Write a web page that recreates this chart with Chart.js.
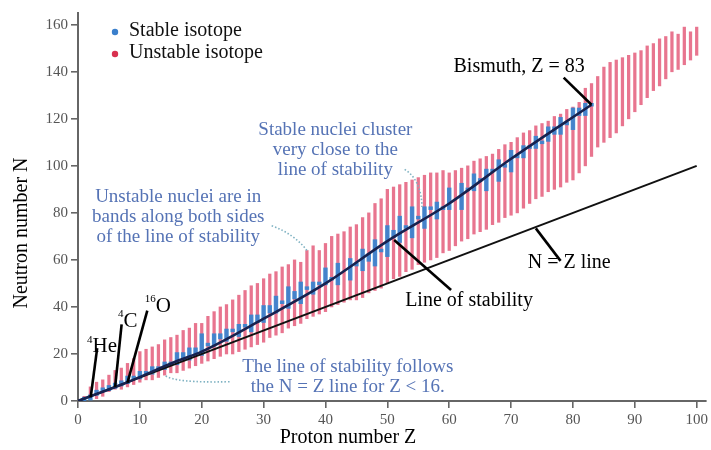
<!DOCTYPE html>
<html>
<head>
<meta charset="utf-8">
<title>Segre chart</title>
<script src="https://cdn.jsdelivr.net/npm/chart.js@4.4.1/dist/chart.umd.min.js"></script>
<style>
  html, body { margin: 0; padding: 0; background: #fff; }
  #wrap { width: 711px; height: 450px; }
</style>
</head>
<body>
<div id="wrap"><canvas id="segre" width="711" height="450"></canvas></div>
<script>
// ── Data ────────────────────────────────────────────────────────────────────
const protonZ = [
  1, 2, 3, 4, 5, 6, 7, 8, 9, 10,
  11, 12, 13, 14, 15, 16, 17, 18, 19, 20,
  21, 22, 23, 24, 25, 26, 27, 28, 29, 30,
  31, 32, 33, 34, 35, 36, 37, 38, 39, 40,
  41, 42, 43, 44, 45, 46, 47, 48, 49, 50,
  51, 52, 53, 54, 55, 56, 57, 58, 59, 60,
  61, 62, 63, 64, 65, 66, 67, 68, 69, 70,
  71, 72, 73, 74, 75, 76, 77, 78, 79, 80,
  81, 82, 83, 84, 85, 86, 87, 88, 89, 90,
  91, 92, 93, 94, 95, 96, 97, 98, 99, 100
];

// lowest / highest neutron number of the red (unstable) band at each Z
const unstableLow = [
  0, 1, 1, 2, 4, 5, 5, 6, 7, 8,
  9, 9, 10, 11, 12, 12, 13, 14, 15, 16,
  17, 18, 19, 20, 20, 21, 22, 23, 24, 25,
  27, 28, 29, 31, 32, 33, 35, 36, 37, 38,
  40, 41, 42, 43, 43, 44, 46, 47, 48, 50,
  52, 53, 55, 56, 58, 59, 60, 61, 63, 64,
  66, 68, 69, 71, 72, 73, 75, 76, 78, 79,
  80, 82, 84, 86, 87, 89, 90, 91, 93, 94,
  97, 100, 104, 108, 110, 112, 114, 117, 120, 123,
  126, 129, 132, 134, 137, 140, 141, 143, 145, 147
];
const unstableHigh = [
  2, 6, 8, 9, 11, 13, 14, 16, 18, 21,
  22, 23, 24, 26, 27, 28, 30, 31, 33, 33,
  36, 38, 40, 41, 43, 45, 47, 49, 50, 52,
  54, 55, 57, 58, 60, 59, 64, 66, 64, 67,
  70, 71, 72, 74, 75, 78, 80, 84, 86, 90,
  91, 92, 93, 94, 95, 96, 97, 97, 98, 97,
  98, 99, 100, 102, 103, 104, 105, 107, 109, 110,
  112, 114, 115, 117, 118, 119, 121, 122, 124, 125,
  127, 133, 135, 138, 142, 144, 145, 146, 147, 148,
  149, 151, 152, 154, 155, 157, 156, 159, 157, 159
];

// blue (stable) cluster at each Z, null where there is none
const stableLow = [
  0, 1, 3, 5, 5, 6, 7, 8, 10, 10,
  12, 12, 14, 14, 16, 16, 18, 18, 20, 20,
  24, 24, 27, 26, 30, 28, 32, 30, 34, 34,
  38, 38, 42, 40, 44, 42, 48, 46, 50, 50,
  52, 50, null, 52, 58, 56, 60, 58, 64, 62,
  70, 68, 74, 70, 78, 74, 82, 78, 82, 82,
  null, 82, 90, 90, 94, 90, 98, 94, 100, 98,
  104, 104, 108, 108, 110, 111, 114, 114, 118, 116,
  122, 122, 126, null, null, null, null, null, null, null,
  null, null, null, null, null, null, null, null, null, null
];
const stableHigh = [
  1, 2, 4, 5, 6, 7, 8, 10, 10, 12,
  12, 14, 14, 16, 16, 20, 20, 22, 22, 28,
  24, 28, 28, 30, 30, 32, 32, 36, 36, 40,
  40, 44, 42, 48, 46, 50, 48, 50, 50, 56,
  52, 58, null, 60, 58, 64, 62, 68, 64, 74,
  72, 78, 74, 82, 78, 82, 82, 84, 82, 90,
  null, 92, 90, 96, 94, 98, 98, 102, 100, 106,
  104, 108, 108, 112, 110, 116, 116, 120, 118, 124,
  124, 126, 126, null, null, null, null, null, null, null,
  null, null, null, null, null, null, null, null, null, null
];

// line of stability and N = Z line
const stabilityZ = [0, 8, 16, 20, 30, 40, 50, 60, 70, 83];
const stabilityN = [0, 8, 17, 21, 35, 50, 68, 84, 103, 126];
const equalZ = [0, 100];
const equalN = [0, 100];

const xTicks = [0, 10, 20, 30, 40, 50, 60, 70, 80, 90, 100];
const yTicks = [0, 20, 40, 60, 80, 100, 120, 140, 160];

// ── Colours / fonts ─────────────────────────────────────────────────────────
const RED   = 'rgba(226, 78, 112, 0.78)';
const BLUE  = 'rgba(52, 132, 210, 0.9)';
const NAVY  = '#17224f';
const NOTE  = '#5573b5';
const DOTS  = '#7fb2c2';
const SERIF = '"Liberation Serif", "DejaVu Serif", serif';

// ── Text annotations (positions in data units: Z, N) ────────────────────────
const blueNotes = [
  { z: 41.6, n: 115.3, lines: ['Stable nuclei cluster', 'very close to the', 'line of stability'] },
  { z: 16.2, n: 86.8,  lines: ['Unstable nuclei are in', 'bands along both sides', 'of the line of stability'] },
  { z: 43.6, n: 14.6,  lines: ['The line of stability follows', 'the N = Z line for Z < 16.'] }
];
const dottedLeaders = [
  { from: [52.8, 98.5], ctrl: [55.5, 94], to: [55.6, 82.5] },
  { from: [31.3, 74.5], ctrl: [35, 71],   to: [37.0, 64.0] },
  { from: [24.5, 8.2],  ctrl: [15.5, 7.6], to: [14.0, 11.0] }
];
const blackNotes = [
  { z: 71.3, n: 142.0, text: 'Bismuth, Z = 83', from: [78.5, 137.5], to: [83, 126] },
  { z: 63.2, n: 42.5,  text: 'Line of stability', from: [51.1, 68.5], to: [60.3, 47.2] },
  { z: 79.4, n: 58.6,  text: 'N = Z line', from: [74.0, 73.4], to: [78.0, 59.6] }
];
const isotopeTags = [
  { sup: '4',  el: 'He', z: 1.45, n: 23.0, from: [3.1, 22.5], to: [2.05, 1.6] },
  { sup: '4',  el: 'C',  z: 6.45, n: 33.8, from: [7.05, 32.6], to: [6, 6] },
  { sup: '16', el: 'O',  z: 10.8, n: 40.3, from: [11.2, 38.4], to: [8, 7.8] }
];

// ── Overlay plugin: legend, notes, leaders, axis titles ─────────────────────
const overlay = {
  id: 'overlay',
  afterDatasetsDraw(chart) {
    const ctx = chart.ctx;
    const sx = chart.scales.x, sy = chart.scales.y;
    const px = z => sx.getPixelForValue(z);
    const py = n => sy.getPixelForValue(n);

    ctx.save();
    ctx.textBaseline = 'middle';

    // legend
    [['#3a7fcc', 'Stable isotope', 31], ['#d8304f', 'Unstable isotope', 53]].forEach(([c, t, y]) => {
      ctx.fillStyle = c;
      ctx.beginPath(); ctx.arc(115, y + 1, 3.2, 0, Math.PI * 2); ctx.fill();
      ctx.fillStyle = '#111';
      ctx.font = '20px ' + SERIF;
      ctx.textAlign = 'left';
      ctx.fillText(t, 129, y);
    });

    // dotted leaders
    ctx.strokeStyle = DOTS;
    ctx.lineWidth = 1.6;
    ctx.setLineDash([1.5, 2]);
    dottedLeaders.forEach(d => {
      ctx.beginPath();
      ctx.moveTo(px(d.from[0]), py(d.from[1]));
      ctx.quadraticCurveTo(px(d.ctrl[0]), py(d.ctrl[1]), px(d.to[0]), py(d.to[1]));
      ctx.stroke();
    });
    ctx.setLineDash([]);

    // blue notes
    ctx.fillStyle = NOTE;
    ctx.font = '19px ' + SERIF;
    ctx.textAlign = 'center';
    blueNotes.forEach(b => {
      b.lines.forEach((l, i) => ctx.fillText(l, px(b.z), py(b.n) + i * 20));
    });

    // black notes with leaders
    ctx.strokeStyle = '#000';
    ctx.lineWidth = 2.6;
    ctx.fillStyle = '#000';
    ctx.font = '20px ' + SERIF;
    blackNotes.forEach(b => {
      ctx.beginPath();
      ctx.moveTo(px(b.from[0]), py(b.from[1]));
      ctx.lineTo(px(b.to[0]), py(b.to[1]));
      ctx.stroke();
      ctx.fillText(b.text, px(b.z), py(b.n));
    });

    // isotope tags
    isotopeTags.forEach(t => {
      ctx.beginPath();
      ctx.moveTo(px(t.from[0]), py(t.from[1]));
      ctx.lineTo(px(t.to[0]), py(t.to[1]));
      ctx.stroke();
      ctx.textAlign = 'left';
      ctx.font = '11px ' + SERIF;
      ctx.fillText(t.sup, px(t.z), py(t.n) - 7);
      const w = ctx.measureText(t.sup).width;
      ctx.font = '21px ' + SERIF;
      ctx.fillText(t.el, px(t.z) + w, py(t.n));
    });

    // axis titles
    ctx.font = '20px ' + SERIF;
    ctx.textAlign = 'center';
    ctx.fillText('Proton number Z', 348, 438);
    ctx.translate(22, 233);
    ctx.rotate(-Math.PI / 2);
    ctx.fillText('Neutron number N', 0, 0);

    ctx.restore();
  }
};

// ── Build chart ─────────────────────────────────────────────────────────────
function rangeData(lows, highs, pad) {
  const out = [];
  protonZ.forEach((z, i) => {
    if (lows[i] === null || highs[i] === null) return;
    out.push({ x: z, y: [lows[i] - pad, highs[i] + pad] });
  });
  return out;
}

function lineData(zs, ns) {
  return zs.map((z, i) => ({ x: z, y: ns[i] }));
}

const axisGrey = '#666';
const tickFont = { family: SERIF, size: 15 };

new Chart(document.getElementById('segre'), {
  type: 'bar',
  data: {
    datasets: [
      {
        label: 'Unstable isotope',
        data: rangeData(unstableLow, unstableHigh, 0),
        backgroundColor: RED,
        barThickness: 2.6,
        grouped: false,
        order: 3
      },
      {
        label: 'Stable isotope',
        data: rangeData(stableLow, stableHigh, 0.6),
        backgroundColor: BLUE,
        barThickness: 3.8,
        grouped: false,
        order: 2
      },
      {
        type: 'line',
        label: 'N = Z line',
        data: lineData(equalZ, equalN),
        borderColor: '#111',
        borderWidth: 2,
        pointRadius: 0,
        order: 1
      },
      {
        type: 'line',
        label: 'Line of stability',
        data: lineData(stabilityZ, stabilityN),
        borderColor: NAVY,
        borderWidth: 2.6,
        pointRadius: 0,
        cubicInterpolationMode: 'monotone',
        order: 0
      }
    ]
  },
  options: {
    responsive: false,
    animation: false,
    devicePixelRatio: 1,
    layout: { padding: { left: 0, top: 13, right: 4, bottom: 0 } },
    plugins: { legend: { display: false }, tooltip: { enabled: false } },
    scales: {
      x: {
        type: 'linear',
        offset: false,
        min: 0,
        max: 101.5,
        afterFit: s => { s.height = 49; },
        afterBuildTicks: s => { s.ticks = xTicks.map(v => ({ value: v })); },
        ticks: { font: tickFont, color: '#555', padding: 3, includeBounds: false },
        grid: { display: true, drawOnChartArea: false, drawTicks: true, tickLength: 7, color: axisGrey, lineWidth: 1.6, offset: false },
        border: { display: true, color: axisGrey, width: 2 }
      },
      y: {
        type: 'linear',
        min: 0,
        max: 165,
        afterFit: s => { s.width = 78; },
        afterBuildTicks: s => { s.ticks = yTicks.map(v => ({ value: v })); },
        ticks: { font: tickFont, color: '#555', padding: 3, includeBounds: false },
        grid: { display: true, drawOnChartArea: false, drawTicks: true, tickLength: 7, color: axisGrey, lineWidth: 1.6 },
        border: { display: true, color: axisGrey, width: 2 }
      }
    }
  },
  plugins: [overlay]
});
</script>
</body>
</html>
